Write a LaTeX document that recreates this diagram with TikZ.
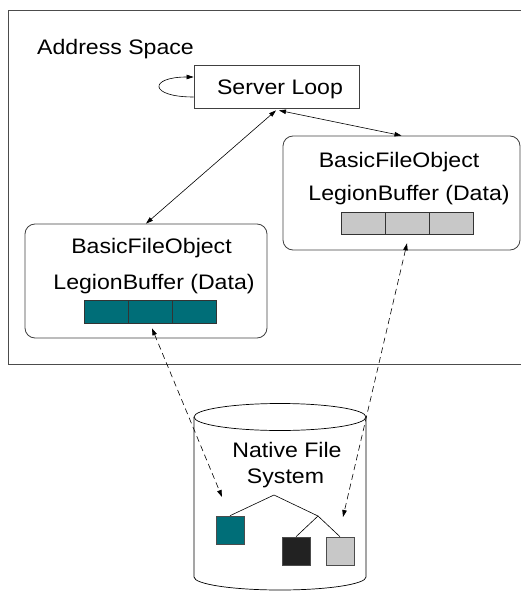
\documentclass[tikz,border=0pt]{standalone}
\usepackage{fontspec}
\setmainfont{Liberation Sans}[FakeStretch=1.1]
\usetikzlibrary{arrows.meta}
\definecolor{bufteal}{RGB}{0,110,120}
\definecolor{bufgray}{RGB}{200,200,200}
\definecolor{bufblack}{RGB}{34,34,34}
\tikzset{
  >={Triangle[length=7pt,width=4.5pt]},
  lbl/.style={font=\fontsize{21}{25}\selectfont,inner sep=0pt,anchor=base},
  objbox/.style={draw=black!75,line width=.8pt,rounded corners=10pt,minimum height=114pt},
  cell/.style={draw=black!80,line width=.6pt,minimum width=44pt,inner sep=0pt},
  leaf/.style={draw=black!70,line width=.6pt,minimum size=28pt,inner sep=0pt},
  link/.style={<->,line width=.6pt},
  dlink/.style={link,dash pattern=on 6pt off 4pt}
}

\begin{document}
\begin{tikzpicture}[x=1pt,y=-1pt]
\useasboundingbox(0,0)rectangle(521,591);

% address space frame, runs off on the right
\draw[black!70,line width=.8pt](521,10)--(8,10)--(8,364)--(521,364);
\node[lbl,anchor=base west](space)at(37,55){Address Space};

% server loop
\node[draw=black!75,line width=.8pt,minimum width=165pt,minimum height=43pt](loop)at(276.5,86.5){};
\node[lbl](looptxt)at(280,95){Server Loop};
\draw[->,line width=.6pt]([yshift=-10.5pt]loop.west) .. controls +(-45,0) and +(-45,0) .. ([yshift=9.5pt]loop.west);

% file objects
\node[objbox,minimum width=237pt](fobjR)at(401.5,193){};
\node[lbl](fobjRname)at(399,167){BasicFileObject};
\node[lbl](fobjRbuf)at(409,200){LegionBuffer (Data)};
\foreach \i/\x in {1/363,2/407,3/451}
  \node[cell,minimum height=22pt,fill=bufgray](bufR\i)at(\x,223){};

\node[objbox,minimum width=242pt](fobjL)at(146,281){};
\node[lbl](fobjLname)at(151.5,253){BasicFileObject};
\node[lbl](fobjLbuf)at(154,289){LegionBuffer (Data)};
\foreach \i/\x in {1/106,2/150,3/194}
  \node[cell,minimum height=23pt,fill=bufteal](bufL\i)at(\x,311.5){};

\draw[link]([xshift=-.5pt,yshift=-2pt]loop.south)--(fobjL.north);
\draw[link]([xshift=2.5pt,yshift=-2pt]loop.south)--(fobjR.north);

% native file system
\draw[line width=.7pt](280,417)ellipse[x radius=86,y radius=13.5];
\draw[line width=.7pt](194,417)--(194,577)arc[start angle=180,end angle=0,x radius=86,y radius=13]--(366,417);
\node[lbl](fsname)at(287,457){Native File};
\node[lbl](fsname2)at(285.5,483){System};

\coordinate(root)at(274,495);
\coordinate(fork)at(318,516);
\node[leaf,fill=bufteal](sqA)at(230,530){};
\node[leaf,fill=bufblack](sqB)at(296,551){};
\node[leaf,fill=bufgray](sqC)at(340,551){};
\draw[line width=.6pt](sqA.north)--(root)--(fork)--(sqB.north);
\draw[line width=.6pt](fork)--(sqC.north);

\coordinate(fsL)at(222,497);
\coordinate(fsR)at(343,517);
\draw[dlink]([xshift=2pt,yshift=-5pt]bufL2.south)--(fsL);
\draw[dlink]([yshift=-9pt]bufR2.south)--(fsR);

\end{tikzpicture}
\end{document}
